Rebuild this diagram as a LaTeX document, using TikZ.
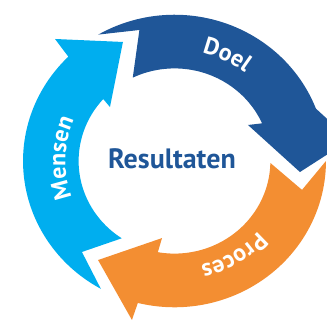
\documentclass[tikz,border=0pt]{standalone}
\usepackage{fontspec}
\setsansfont{PT Sans}
\usepackage{xcolor,tikz}
\usetikzlibrary{decorations.text}
\definecolor{doelblue}{RGB}{31,86,152}
\definecolor{mensenblue}{RGB}{0,174,239}
\definecolor{procesorange}{RGB}{243,142,50}
\newcommand{\labelfont}{\sffamily\bfseries\fontsize{24}{24}\selectfont}
\tikzset{%
  doel/.style={fill=doelblue},
  mensen/.style={fill=mensenblue},
  proces/.style={fill=procesorange},
  arclabel/.style={decorate,decoration={text along path,text align=center,
    text color=white,text={|\labelfont|#1}}},
  title/.style={text=doelblue,font=\sffamily\bfseries\fontsize{28}{28}\selectfont}
}
\def\rin{94}
\def\rout{148.5}

\begin{document}
\begin{tikzpicture}[x=1pt,y=1pt]
  \useasboundingbox (-174.5,-161) rectangle (152.5,161);
  \clip (-174.5,-161) rectangle (152.5,161);

  \begin{scope}[xscale=1.02,yscale=0.985]
    % Doel
    \path[doel] (120.2:\rout) arc[start angle=120.2,end angle=21,radius=\rout]
      -- (7.1:173.3) -- (-5.2:123.5) -- (26.9:80.8) -- (24:\rin)
      arc[start angle=24,end angle=115.8,radius=\rin] -- (104.5:137.4) -- cycle;
    % Proces
    \path[proces] (0:\rout) arc[start angle=0,end angle=-104,radius=\rout]
      -- (-104.5:166.7) -- (-126.7:125.4) -- (-98.9:79.2) -- (-100:\rin)
      arc[start angle=-100,end angle=-1.2,radius=\rin] -- (-13.2:128.4) -- cycle;
    % Mensen
    \path[mensen] (240.9:\rout) arc[start angle=240.9,end angle=134.5,radius=\rout]
      -- (133.4:170.5) -- (112.7:131) -- (139.1:83.7) -- (138:\rin)
      arc[start angle=138,end angle=236.6,radius=\rin] -- (225.5:129.5) -- cycle;

    \path[arclabel=Doel] (100:113) arc[start angle=100,end angle=28,radius=113];
    \path[arclabel=Mensen] (220:107) arc[start angle=220,end angle=137,radius=107];
    \path[arclabel=Proces] (-20:109) arc[start angle=-20,end angle=-97,radius=109];
  \end{scope}

  \node[title] (res) at (-2.5,2) {Resultaten};
\end{tikzpicture}
\end{document}
